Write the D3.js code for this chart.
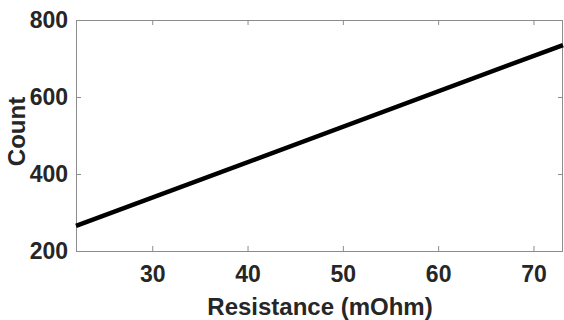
<!DOCTYPE html>
<html><head><meta charset="utf-8">
<script src="https://cdn.jsdelivr.net/npm/d3@7"></script>
<style>body{margin:0;background:#fff;}svg{display:block;}</style>
</head><body>
<svg id="c" width="564" height="320"></svg>
<script>
const resistance = [22, 73.1];
const counts = [265, 735];
const xTicks = [30, 40, 50, 60, 70];
const yTicks = [200, 400, 600, 800];
const xDomain = [22, 73.1];
const yDomain = [200, 800];

const W = 564, H = 320;
const m = {left: 76, top: 20, right: 1, bottom: 69};
const svg = d3.select("#c");
const x = d3.scaleLinear().domain(xDomain).range([m.left, W - m.right]);
const y = d3.scaleLinear().domain(yDomain).range([H - m.bottom, m.top]);
const axisColor = "#8c8c8c";
const font = "'Liberation Sans', Arial, sans-serif";

// box
svg.append("rect").attr("x", m.left + 0.5).attr("y", m.top + 0.5)
  .attr("width", W - m.right - m.left - 1).attr("height", H - m.bottom - m.top)
  .attr("fill", "none").attr("stroke", axisColor).attr("stroke-width", 1);

const tl = 5;
function styleAxis(g) {
  g.select(".domain").remove();
  g.selectAll(".tick line").attr("stroke", axisColor);
  g.selectAll(".tick text").attr("fill", "#262626")
    .style("font-family", font).style("font-weight", "bold").style("font-size", "23px");
}
svg.append("g").attr("transform", `translate(0,${H - m.bottom})`)
  .call(d3.axisBottom(x).tickValues(xTicks).tickSizeInner(-tl).tickSizeOuter(0).tickPadding(15))
  .call(styleAxis);
svg.append("g").attr("transform", `translate(0,${m.top})`)
  .call(d3.axisTop(x).tickValues(xTicks).tickSizeInner(-tl).tickSizeOuter(0).tickFormat(""))
  .call(styleAxis);
svg.append("g").attr("transform", `translate(${m.left},0)`)
  .call(d3.axisLeft(y).tickValues(yTicks).tickSizeInner(-tl).tickSizeOuter(0).tickPadding(8))
  .call(styleAxis);
svg.append("g").attr("transform", `translate(${W - m.right},0)`)
  .call(d3.axisRight(y).tickValues(yTicks).tickSizeInner(-tl).tickSizeOuter(0).tickFormat(""))
  .call(styleAxis);

const data = resistance.map((r, i) => ({r, c: counts[i]}));
svg.append("path").datum(data)
  .attr("fill", "none").attr("stroke", "#000").attr("stroke-width", 4.5)
  .attr("d", d3.line().x(d => x(d.r)).y(d => y(d.c)));

svg.append("text").attr("x", 320).attr("y", 314.5)
  .attr("text-anchor", "middle").attr("fill", "#262626")
  .style("font-family", font).style("font-weight", "bold").style("font-size", "24px")
  .text("Resistance (mOhm)");
svg.append("text").attr("transform", `translate(25,131.5) rotate(-90)`)
  .attr("text-anchor", "middle").attr("fill", "#262626")
  .style("font-family", font).style("font-weight", "bold").style("font-size", "24px")
  .text("Count");
</script>
</body></html>
